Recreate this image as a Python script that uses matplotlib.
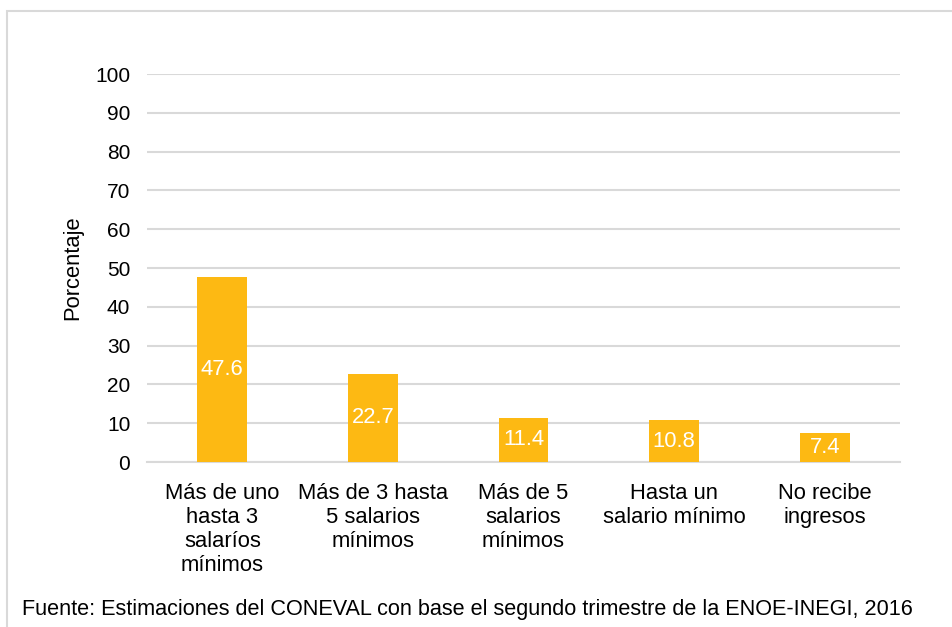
import matplotlib
matplotlib.use("Agg")
import matplotlib.pyplot as plt
from matplotlib.patches import Rectangle

categories = [
    "Más de uno\nhasta 3\nsalaríos\nmínimos",
    "Más de 3 hasta\n5 salarios\nmínimos",
    "Más de 5\nsalarios\nmínimos",
    "Hasta un\nsalario mínimo",
    "No recibe\ningresos",
]
values = [47.6, 22.7, 11.4, 10.8, 7.4]
yticks = [0, 10, 20, 30, 40, 50, 60, 70, 80, 90, 100]
ylabel = "Porcentaje"
source = "Fuente: Estimaciones del CONEVAL con base el segundo trimestre de la ENOE-INEGI, 2016"

plt.rcParams["font.family"] = ["Liberation Sans", "DejaVu Sans"]
FS_TICK = 15
FS = 15.8
FS_SRC = 15.6
BAR = "#FDB913"
GRID = "#D9D9D9"

W, H = 952, 627
fig = plt.figure(figsize=(W / 100, H / 100), dpi=100)

# outer frame (only left and top edges fall inside the canvas)
fig.add_artist(Rectangle((7 / W, -0.05), 1.1, 1.05 - 11 / H,
                         transform=fig.transFigure, fill=False,
                         edgecolor="#D9D9D9", linewidth=1.5))

ax = fig.add_axes([147 / W, 1 - 462 / H, (900 - 147) / W, (462 - 74) / H])
x = range(len(categories))
bars = ax.bar(x, values, width=0.33, color=BAR, zorder=3)
ax.set_xlim(-0.5, len(categories) - 0.5)
ax.set_ylim(0, 100)
ax.set_yticks(yticks)
ax.tick_params(axis="y", length=0, pad=12, labelsize=FS_TICK)
ax.tick_params(axis="x", length=0, pad=15, labelsize=FS)
ax.set_xticks(list(x))
ax.set_xticklabels(categories, linespacing=1.2, va="top")
ax.yaxis.grid(True, color=GRID, linewidth=1.5, zorder=0)
for s in ["top", "right", "left"]:
    ax.spines[s].set_visible(False)
ax.spines["bottom"].set_color(GRID)
ax.spines["bottom"].set_linewidth(1.5)
ax.spines["bottom"].set_zorder(1)

for b, v in zip(bars, values):
    ax.text(b.get_x() + b.get_width() / 2, v / 2, f"{v:.1f}",
            ha="center", va="center", color="white", fontsize=FS, zorder=4)

fig.text(73 / W, 1 - 268 / H, ylabel, rotation=90, ha="center", va="center",
         fontsize=FS)
fig.text(22 / W, 1 - 609 / H, source, ha="left", va="center", fontsize=FS_SRC)

fig.savefig("out.png", dpi=100)
